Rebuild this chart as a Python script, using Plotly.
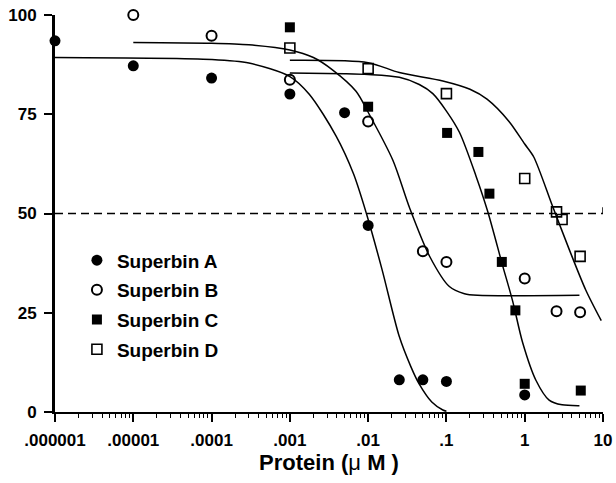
import plotly.graph_objects as go

# ---------------- data ----------------
series_names = ["Superbin A", "Superbin B", "Superbin C", "Superbin D"]

xA = [1e-6, 1e-5, 1e-4, 1e-3, 0.005, 0.01, 0.025, 0.05, 0.1, 1]
yA = [93.5, 87.2, 84.1, 80.1, 75.4, 47.0, 8.1, 8.1, 7.7, 4.3]

xB = [1e-5, 1e-4, 1e-3, 0.01, 0.05, 0.1, 1, 2.55, 5.1]
yB = [100, 94.8, 83.7, 73.2, 40.5, 37.8, 33.6, 25.4, 25.1]

xC = [1e-3, 0.01, 0.102, 0.256, 0.354, 0.51, 0.76, 1, 5.2]
yC = [96.9, 76.9, 70.3, 65.5, 55.0, 37.8, 25.6, 7.1, 5.4]

xD = [1e-3, 0.01, 0.1, 1, 2.55, 3.0, 5.1, 10.1]
yD = [91.7, 86.5, 80.2, 58.8, 50.4, 48.5, 39.2, 19.6]

# fitted curves
fitA_x = [1e-6, 1e-4, 3e-4, 1e-3, 1.78e-3, 3.9e-3, 0.0065, 0.0095, 0.015, 0.025, 0.035, 0.045, 0.065, 0.09, 0.1]
fitA_y = [89.3, 88.8, 87.9, 84.5, 80.0, 69.5, 60.0, 50.0, 36.0, 19.0, 11.5, 7.0, 2.5, 0.5, 0.2]

fitB_x = [1e-5, 1e-4, 3e-4, 1e-3, 2e-3, 3.5e-3, 0.007, 0.01, 0.0207, 0.0337, 0.0607, 0.109, 0.17, 0.25, 5]
fitB_y = [93.1, 92.9, 92.5, 91.2, 89.3, 86.2, 80.8, 75.5, 63.4, 51.5, 39.3, 31.6, 29.8, 29.4, 29.4]

fitC_x = [1e-3, 0.005, 0.01, 0.025, 0.045, 0.067, 0.1, 0.147, 0.239, 0.337, 0.52, 0.7, 0.94, 1.39, 2.05, 3, 5]
fitC_y = [85.4, 85.2, 85.0, 84.3, 82.5, 80.2, 75.8, 70.4, 59.4, 50.5, 37.0, 28.0, 17.5, 8.0, 3.0, 1.8, 1.6]

fitD_x = [1e-3, 0.01, 0.025, 0.09, 0.2, 0.33, 0.63, 1.0, 1.3, 2.27, 3.71, 6.0, 9.5]
fitD_y = [88.6, 88.0, 85.5, 83.4, 81.3, 78.8, 73.2, 67.5, 64.3, 51.8, 40.9, 30.8, 23.0]

ref_x = [1e-6, 10]
ref_y = [50, 50]
ref_end_x = [10, 10]
ref_end_y = [50, 51.6]

x_tickvals = [1e-6, 1e-5, 1e-4, 1e-3, 1e-2, 1e-1, 1, 10]
x_ticktext = [".000001", ".00001", ".0001", ".001", ".01", ".1", "1", "10"]
y_tickvals = [0, 25, 50, 75, 100]

FONT = "Liberation Sans, Arial, sans-serif"

fig = go.Figure()

# reference line at 50 %
fig.add_trace(go.Scatter(x=ref_x, y=ref_y, mode="lines", showlegend=False, hoverinfo="skip",
                         line=dict(color="black", width=1.5, dash="8px,5px")))
fig.add_trace(go.Scatter(x=ref_end_x, y=ref_end_y, mode="lines", showlegend=False, hoverinfo="skip",
                         line=dict(color="black", width=1.5)))

# fitted curves
for fx, fy in [(fitA_x, fitA_y), (fitB_x, fitB_y), (fitC_x, fitC_y), (fitD_x, fitD_y)]:
    fig.add_trace(go.Scatter(x=fx, y=fy, mode="lines", showlegend=False, hoverinfo="skip",
                             line=dict(color="black", width=1.5, shape="spline", smoothing=0.8)))

markers = [
    dict(symbol="circle", size=11, color="black", line=dict(width=0)),
    dict(symbol="circle-open", size=10, color="black", line=dict(width=2, color="black")),
    dict(symbol="square", size=10, color="black", line=dict(width=0)),
    dict(symbol="square-open", size=10, color="black", line=dict(width=1.6, color="black")),
]
for i, (xs, ys) in enumerate([(xA, yA), (xB, yB), (xC, yC), (xD, yD)]):
    fig.add_trace(go.Scatter(x=xs, y=ys, mode="markers", name=series_names[i],
                             legendgroup=series_names[i], marker=markers[i], cliponaxis=False))

fig.update_layout(
    template="none",
    width=616, height=483,
    margin=dict(l=55, r=13, t=15, b=71),
    paper_bgcolor="white", plot_bgcolor="white",
    font=dict(family=FONT, color="black"),
    showlegend=True,
    legend=dict(x=0.04, y=0.43, xanchor="left", yanchor="top", bgcolor="rgba(0,0,0,0)",
                font=dict(size=19, weight="bold", family=FONT), traceorder="grouped",
                tracegroupgap=2),
    xaxis=dict(type="log", range=[-6, 1], automargin=False, showline=True, linecolor="black", linewidth=2,
               ticks="outside", ticklen=8, tickwidth=1.5, tickcolor="black",
               tickvals=x_tickvals, ticktext=x_ticktext,
               tickfont=dict(size=17, weight="bold", family=FONT),
               ticklabelstandoff=4,
               minor=dict(ticks="outside", ticklen=4, tickwidth=1, tickcolor="black", dtick="D1", showgrid=False),
               showgrid=False, zeroline=False,
               title=dict(text='Protein (<span style="font-weight:normal">\u03bc</span> M )',
                          font=dict(size=22, weight="bold", family=FONT), standoff=5)),
    yaxis=dict(range=[0, 100], automargin=False, showline=True, linecolor="black", linewidth=3,
               ticks="outside", ticklen=8, tickwidth=2, tickcolor="black",
               tickvals=y_tickvals, tickfont=dict(size=17, weight="bold", family=FONT),
               ticklabelstandoff=4,
               showgrid=False, zeroline=False),
)

fig.write_html("out.html")
